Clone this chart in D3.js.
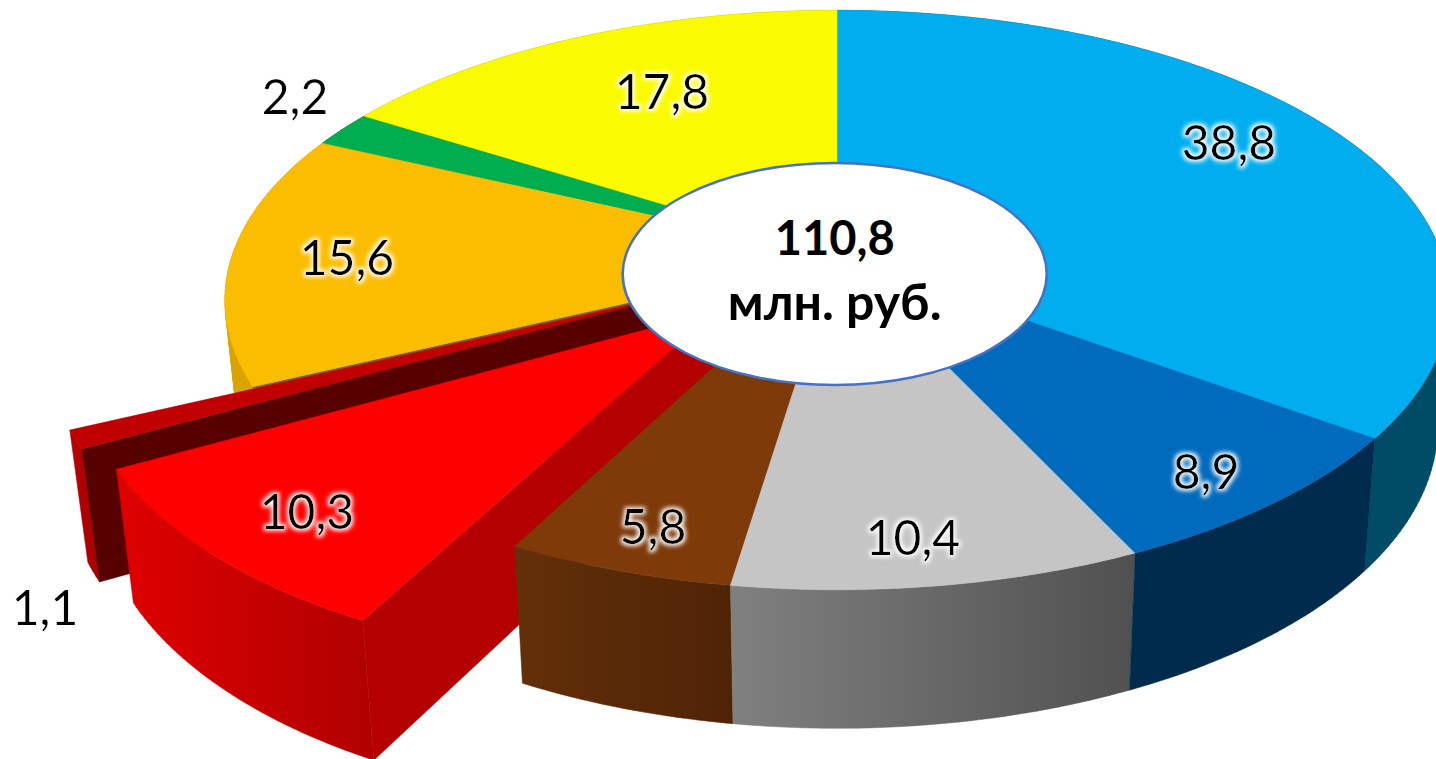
<!DOCTYPE html>
<html>
<head>
<meta charset="utf-8">
<script src="https://cdn.jsdelivr.net/npm/d3@7"></script>
<style>
	body { margin: 0; background: #fff; overflow: hidden; }
	svg { display: block; }
	text { font-family: Lato, "Noto Sans", sans-serif; fill: #000; }
</style>
</head>
<body>
<svg class="pie"></svg>
<script>
// slice values, clockwise from 12 o'clock
const values = [38.8, 8.9, 10.4, 5.8, 10.3, 1.1, 15.6, 2.2, 17.8];
const valueLabels = ["38,8", "8,9", "10,4", "5,8", "10,3", "1,1", "15,6", "2,2", "17,8"];
const centerLabels = ["110,8", "млн. руб."];

const topColors = ["#00aeef", "#006bbd", "#c5c5c5", "#7f3a0a", "#ff0000", "#c00000", "#fbbd00", "#00ae50", "#fafa00"];
const wallLeft = ["#004b66", "#002b4c", "#808080", "#623009", "#e00000", "#b80000", "#d9a300", "#006030", "#a0a000"];
const wallRight = ["#004b66", "#002b4c", "#505050", "#4f2306", "#b00000", "#a80000", "#d9a300", "#006030", "#a0a000"];
const radialColors = [null, null, null, null, "#b40000", "#560000", "#7f6000", null, null];
// how far a slice is pulled out, sideways and towards the viewer
const explodeU = [0, 0, 0, 0, 0.28, 0.29, 0, 0, 0];
const explodeV = [0, 0, 0, 0, 0.264, 0.285, 0, 0, 0];

// back to front
const drawOrder = [0, 8, 7, 6, 5, 4, 3, 2, 1];
const labelAt = [[1229, 141], [1206, 470], [913, 536], [653, 525], [307, 510], [45, 606], [347, 256], [295, 95], [662, 90]];

const size = { w: 1436, h: 759 };
const center = { x: 837, y: 256 };
const radius = { x: 605, y: 283 };
const persp = 0.152;
const hole = { x: 834.7, y: 274, rx: 212, ry: 111 };

const svg = d3.select("svg.pie").attr("width", size.w).attr("height", size.h);
const defs = svg.append("defs");
const lineGen = d3.line();

const slices = d3.pie().sort(null).value((d) => d)(values);

// tilted disc with perspective: plane coords -> screen
function project(u, v) {
	let w = 1 - persp * v;
	return [center.x + (radius.x * u) / w, center.y + (radius.y * v) / w];
}

function onRim(d, i, angle, r = 1) {
	let mid = (d.startAngle + d.endAngle) / 2;
	let u = r * Math.sin(angle) + explodeU[i] * Math.sin(mid);
	let v = -r * Math.cos(angle) - explodeV[i] * Math.cos(mid);
	return project(u, v);
}

// the lower edge of the disc, straight under a top point
function lower(p) {
	let squeeze = p[0] > center.x ? 0.019 : 0.0235;
	return [p[0] - (p[0] - center.x) * squeeze, p[1] + 115 + 0.04 * p[1]];
}

function rimPoints(d, i) {
	let n = Math.max(4, Math.ceil((d.endAngle - d.startAngle) * 60));
	return d3.range(n + 1).map((k) => {
		return onRim(d, i, d.startAngle + ((d.endAngle - d.startAngle) * k) / n);
	});
}

function makeGradient(i, pts) {
	let ext = d3.extent(pts, (p) => p[0]);
	let grad = defs
		.append("linearGradient")
		.attr("id", "wall" + i)
		.attr("gradientUnits", "userSpaceOnUse")
		.attr("x1", ext[0])
		.attr("x2", ext[1])
		.attr("y1", 0)
		.attr("y2", 0);
	grad.append("stop").attr("offset", 0).attr("stop-color", wallLeft[i]);
	grad.append("stop").attr("offset", 1).attr("stop-color", wallRight[i]);
}

function addPath(g, d, color) {
	g.append("path")
		.attr("d", d)
		.attr("fill", color)
		.attr("stroke", color)
		.attr("stroke-width", 0.5);
}

function addShape(g, pts, color) {
	addPath(g, lineGen(pts) + "Z", color);
}

const glow = defs.append("filter").attr("id", "glow").attr("x", "-20%").attr("y", "-20%").attr("width", "140%").attr("height", "140%");
glow.append("feMorphology").attr("in", "SourceAlpha").attr("operator", "dilate").attr("radius", 2).attr("result", "fat");
glow.append("feGaussianBlur").attr("in", "fat").attr("stdDeviation", 2.2).attr("result", "soft");
glow.append("feFlood").attr("flood-color", "#fff").attr("flood-opacity", 0.95);
glow.append("feComposite").attr("in2", "soft").attr("operator", "in").attr("result", "halo");
const glowMerge = glow.append("feMerge");
glowMerge.append("feMergeNode").attr("in", "halo");
glowMerge.append("feMergeNode").attr("in", "SourceGraphic");

const sliceG = svg.append("g").classed("slices", true);

drawOrder.forEach((i) => {
	let d = slices[i];
	let g = sliceG.append("g");
	let rim = rimPoints(d, i);
	let apex = onRim(d, i, d.startAngle, 0);

	// outer wall, swept piece by piece so the silhouette stays straight.
	// one path for all pieces, otherwise the seams show. all pieces wound
	// the same way or the overlaps near the silhouette turn into holes
	makeGradient(i, rim.concat(rim.map(lower)));
	let sweep = d3
		.pairs(rim)
		.map((seg) => {
			let quad = [seg[0], seg[1], lower(seg[1]), lower(seg[0])];
			if (d3.polygonArea(quad) < 0) quad.reverse();
			return lineGen(quad) + "Z";
		})
		.join("");
	addPath(g, sweep, `url(#wall${i})`);

	// cut side that faces the viewer
	if (radialColors[i]) {
		let edge = rim[0];
		addShape(g, [apex, edge, lower(edge), lower(apex)], radialColors[i]);
	}

	addShape(g, [apex].concat(rim), topColors[i]);
});

svg.append("g")
	.classed("labels", true)
	.selectAll("text")
	.data(valueLabels)
	.join("text")
	.attr("x", (d, i) => labelAt[i][0])
	.attr("y", (d, i) => labelAt[i][1])
	.attr("text-anchor", "middle")
	.attr("dominant-baseline", "central")
	.attr("font-size", 48)
	.attr("filter", "url(#glow)")
	.text((d) => d);

svg.append("ellipse")
	.attr("cx", hole.x)
	.attr("cy", hole.y)
	.attr("rx", hole.rx)
	.attr("ry", hole.ry)
	.attr("fill", "#fff")
	.attr("stroke", "#4472c4")
	.attr("stroke-width", 2.5);

svg.append("g")
	.selectAll("text")
	.data(centerLabels)
	.join("text")
	.attr("x", hole.x)
	.attr("y", (d, i) => 255 + i * 65)
	.attr("text-anchor", "middle")
	.attr("font-size", (d, i) => (i === 0 ? 47 : 50))
	.attr("font-weight", 700)
	.text((d) => d);
</script>
</body>
</html>
